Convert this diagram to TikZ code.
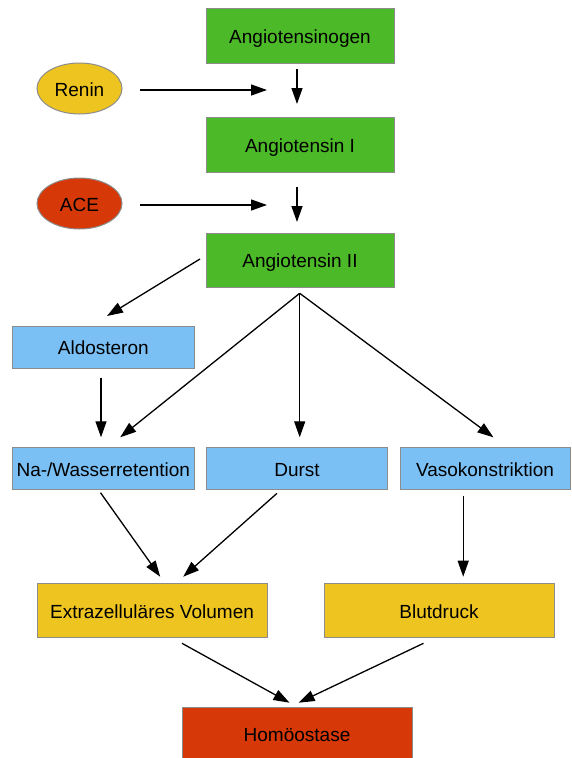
\documentclass[tikz,border=0pt]{standalone}
\usepackage{fontspec}
\setmainfont{Liberation Sans}
\usetikzlibrary{arrows.meta,shapes.geometric}
\definecolor{cgreen}{RGB}{76,185,40}
\definecolor{cblue}{RGB}{122,192,244}
\definecolor{cyellow}{RGB}{238,196,32}
\definecolor{cred}{RGB}{214,56,8}
\definecolor{cborder}{RGB}{140,140,140}
\tikzset{
  box/.style={draw=cborder, line width=1pt, inner sep=0pt, text height=15.5pt, text depth=0pt, font=\fontsize{19}{23}\selectfont},
  oval/.style={box, ellipse},
  arr/.style={line width=1.3pt, -{Triangle[length=16pt,width=11pt]}}
}
\begin{document}
\begin{tikzpicture}[x=1pt,y=-1pt]
\useasboundingbox[fill=white] (0,0) rectangle (571,758);
% nodes
\node[box, fill=cgreen, minimum width=188, minimum height=55] (ago) at (300,35.5) {Angiotensinogen};
\node[box, fill=cgreen, minimum width=188, minimum height=55] (a1) at (300,144.5) {Angiotensin I};
\node[box, fill=cgreen, minimum width=188, minimum height=54] (a2) at (300,260) {Angiotensin II};
\node[oval, fill=cyellow, minimum width=85, minimum height=51] (renin) at (79.5,88.5) {Renin};
\node[oval, fill=cred, minimum width=85, minimum height=51] (ace) at (79.5,203.5) {ACE};
\node[box, fill=cblue, minimum width=181.5, minimum height=42] (aldo) at (103.3,347) {Aldosteron};
\node[box, fill=cblue, minimum width=181.5, minimum height=42] (na) at (103.3,468.3) {Na-/Wasserretention};
\node[box, fill=cblue, minimum width=181, minimum height=42] (durst) at (297,468.3) {Durst};
\node[box, fill=cblue, minimum width=170, minimum height=42] (vaso) at (485,468.3) {Vasokonstriktion};
\node[box, fill=cyellow, minimum width=230, minimum height=54] (extra) at (152,610.5) {Extrazelluläres Volumen};
\node[box, fill=cyellow, minimum width=230, minimum height=54] (blut) at (439,610.5) {Blutdruck};
\node[box, fill=cred, minimum width=230, minimum height=54] (hom) at (297,734) {Homöostase};
% connector end points
\coordinate (r1) at (140,90);   \coordinate (r2) at (267,90);
\coordinate (d1a) at (297,69);  \coordinate (d1b) at (297,104);
\coordinate (c1) at (140,205);  \coordinate (c2) at (267,205);
\coordinate (d2a) at (297,187); \coordinate (d2b) at (297,222);
\coordinate (s1) at (200,259);  \coordinate (s2) at (107,316);
\coordinate (f0) at (299.7,293.3);
\coordinate (fna) at (120.2,437.3);
\coordinate (fdu) at (299.7,437.3);
\coordinate (fva) at (493.4,437.3);
\coordinate (al1) at (101,377.7); \coordinate (al2) at (101,437.3);
\coordinate (n1) at (100.5,492.7); \coordinate (n2) at (160.2,576.7);
\coordinate (du1) at (277,493.3); \coordinate (du2) at (183.2,576.7);
\coordinate (v1) at (463.2,495.7); \coordinate (v2) at (463.2,576.7);
\coordinate (e1) at (182,643.3); \coordinate (e2) at (289.5,702.7);
\coordinate (b1) at (423.5,643.3); \coordinate (b2) at (298.6,702.7);
% connectors
\draw[arr] (r1) -- (r2);
\draw[arr] (d1a) -- (d1b);
\draw[arr] (c1) -- (c2);
\draw[arr] (d2a) -- (d2b);
\draw[arr] (s1) -- (s2);
\draw[arr] (f0) -- (fna);
\draw[arr] (f0) -- (fdu);
\draw[arr] (f0) -- (fva);
\draw[arr] (al1) -- (al2);
\draw[arr] (n1) -- (n2);
\draw[arr] (du1) -- (du2);
\draw[arr] (v1) -- (v2);
\draw[arr] (e1) -- (e2);
\draw[arr] (b1) -- (b2);
\end{tikzpicture}
\end{document}
